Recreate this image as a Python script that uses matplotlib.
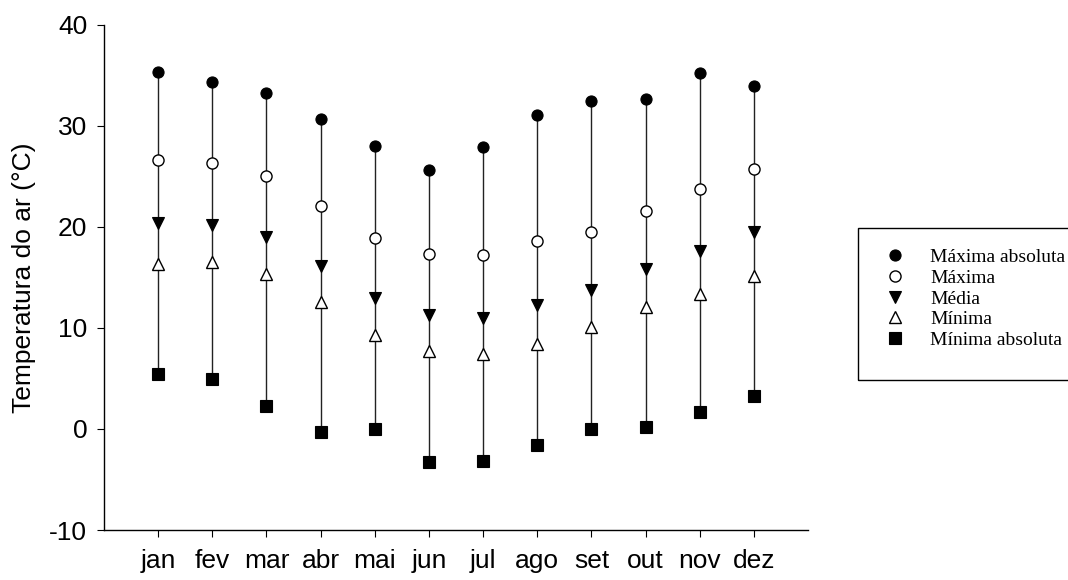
import matplotlib
matplotlib.use("Agg")
import matplotlib.pyplot as plt
from matplotlib.patches import Rectangle
import numpy as np

months = ["jan", "fev", "mar", "abr", "mai", "jun", "jul", "ago", "set", "out", "nov", "dez"]
max_abs = [35.36, 34.37, 33.28, 30.67, 28.00, 25.66, 27.90, 31.07, 32.49, 32.68, 35.20, 33.97]
maxima = [26.62, 26.35, 25.06, 22.10, 18.93, 17.29, 17.22, 18.60, 19.46, 21.57, 23.75, 25.73]
media = [20.35, 20.19, 18.97, 16.16, 12.93, 11.28, 11.01, 12.27, 13.75, 15.80, 17.61, 19.46]
minima = [16.33, 16.50, 15.34, 12.60, 9.30, 7.72, 7.39, 8.38, 10.12, 12.04, 13.36, 15.14]
min_abs = [5.41, 4.92, 2.31, -0.30, 0.00, -3.30, -3.17, -1.58, 0.03, 0.20, 1.71, 3.27]

plt.rcParams['font.family'] = ['Liberation Sans', 'DejaVu Sans']
plt.rcParams['axes.unicode_minus'] = False

fig = plt.figure(figsize=(10.68, 5.80), dpi=100)
ax = fig.add_axes([0.0974, 0.0862, 0.6592, 0.8712])

x = np.arange(1, len(months) + 1)
ax.vlines(x, min_abs, max_abs, colors='#222222', lw=1.0, zorder=1)

ax.plot(x, max_abs, 'o', ms=8, mfc='black', mec='black', mew=0.8, ls='none', label='Máxima absoluta', zorder=3)
ax.plot(x, maxima, 'o', ms=8, mfc='white', mec='black', mew=1.0, ls='none', label='Máxima', zorder=3)
ax.plot(x, media, 'v', ms=9, mfc='black', mec='black', mew=0.8, ls='none', label='Média', zorder=3)
ax.plot(x, minima, '^', ms=9, mfc='white', mec='black', mew=1.0, ls='none', label='Mínima', zorder=3)
ax.plot(x, min_abs, 's', ms=8, mfc='black', mec='black', mew=0.8, ls='none', label='Mínima absoluta', zorder=3)

ax.set_xlim(0, 13)
ax.set_ylim(-10, 40)
ax.set_xticks(x)
ax.set_xticklabels(months)
ax.set_yticks([-10, 0, 10, 20, 30, 40])
ax.tick_params(axis='both', direction='out', length=5, width=0.8, labelsize=19, colors='black')
ax.tick_params(axis='y', pad=7)
ax.tick_params(axis='x', pad=9)
for s in ['top', 'right']:
    ax.spines[s].set_visible(False)
for s in ['left', 'bottom']:
    ax.spines[s].set_linewidth(1.0)

ax.set_ylabel('Temperatura do ar (°C)', fontsize=19)
ax.yaxis.set_label_coords(-0.0966, 0.5)

# legend frame (extends past the right edge of the figure, as in the reference)
fig.patches.append(Rectangle((0.8034, 0.3448), 0.25, 0.262, transform=fig.transFigure,
                             fill=False, edgecolor='black', lw=1.0))

leg = fig.legend(loc='upper left', bbox_to_anchor=(0.8034, 0.6017),
                 borderaxespad=0, frameon=False,
                 prop={'family': ['Liberation Serif'], 'size': 14},
                 handlelength=2.0, handletextpad=0.81, borderpad=0.9, labelspacing=0.16,
                 numpoints=1)

fig.savefig('out.png', dpi=100)
